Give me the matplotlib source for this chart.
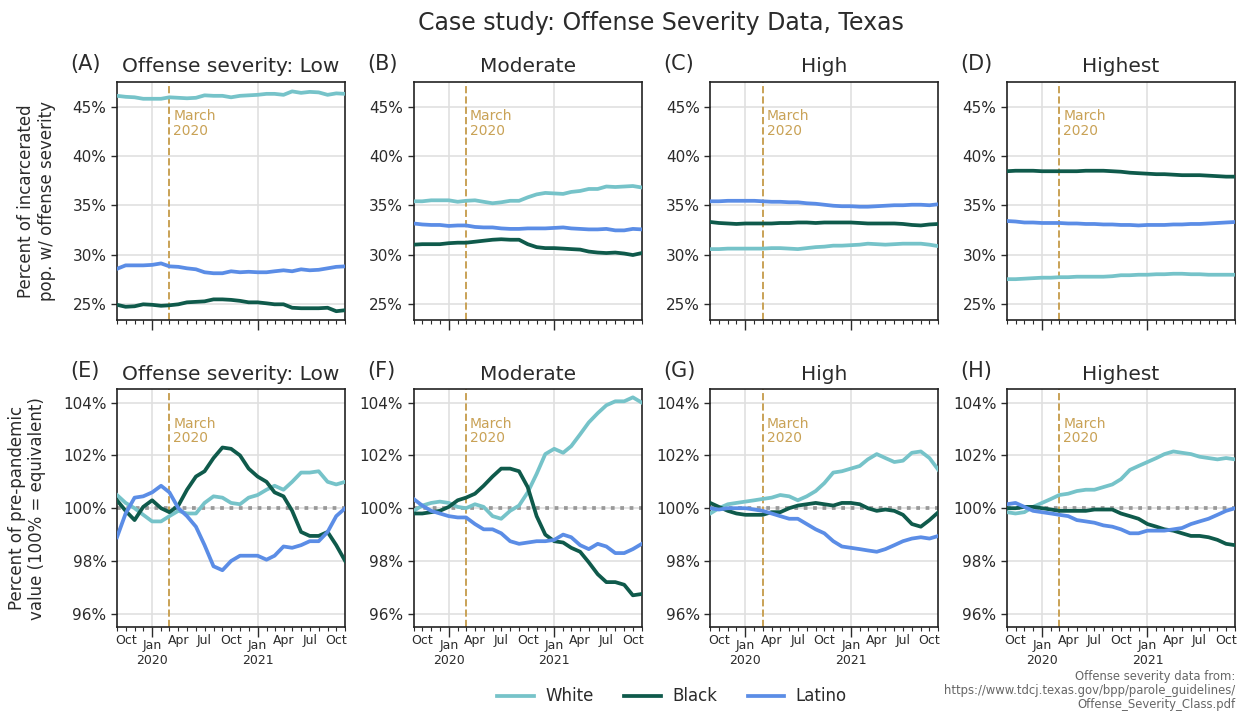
import matplotlib
matplotlib.use("Agg")
import matplotlib.pyplot as plt
import matplotlib.dates as mdates
import matplotlib.ticker as mticker
import pandas as pd

# meses (inicio de mes), sep 2019 - nov 2021
meses = pd.date_range("2019-09-01", "2021-11-01", freq="MS")

niveles = ["Offense severity: Low", "Moderate", "High", "Highest"]
letras_arriba = ["(A)", "(B)", "(C)", "(D)"]
letras_abajo = ["(E)", "(F)", "(G)", "(H)"]
grupos = ["White", "Black", "Latino"]
colores = {"White": "#76c3c9", "Black": "#0f5a4b", "Latino": "#5b8de6"}

# --- porcentaje de la poblacion encarcelada (fila de arriba) ---
pct_white = [
    [46.1, 46.0, 45.95, 45.8, 45.8, 45.8, 45.95, 45.9, 45.85, 45.9, 46.15, 46.1, 46.1, 45.95,
     46.1, 46.15, 46.2, 46.3, 46.3, 46.2, 46.55, 46.4, 46.5, 46.45, 46.2, 46.35, 46.3],
    [35.4, 35.4, 35.5, 35.5, 35.5, 35.35, 35.45, 35.5, 35.35, 35.2, 35.3, 35.45, 35.45, 35.8,
     36.1, 36.25, 36.2, 36.15, 36.35, 36.45, 36.65, 36.65, 36.9, 36.85, 36.9, 36.95, 36.8],
    [30.55, 30.55, 30.6, 30.6, 30.6, 30.6, 30.6, 30.65, 30.65, 30.6, 30.55, 30.65, 30.75, 30.8,
     30.9, 30.9, 30.95, 31.0, 31.1, 31.05, 31.0, 31.05, 31.1, 31.1, 31.1, 31.0, 30.85],
    [27.5, 27.5, 27.55, 27.6, 27.65, 27.65, 27.7, 27.7, 27.75, 27.75, 27.75, 27.75, 27.8, 27.9,
     27.9, 27.95, 27.95, 28.0, 28.0, 28.05, 28.05, 28.0, 28.0, 27.95, 27.95, 27.95, 27.95],
]
pct_black = [
    [24.9, 24.7, 24.75, 24.95, 24.9, 24.8, 24.85, 24.95, 25.15, 25.2, 25.25, 25.45, 25.45, 25.4,
     25.3, 25.15, 25.15, 25.05, 24.95, 24.95, 24.6, 24.55, 24.55, 24.55, 24.6, 24.25, 24.35],
    [31.0, 31.05, 31.05, 31.05, 31.15, 31.2, 31.2, 31.3, 31.4, 31.5, 31.55, 31.5, 31.5, 31.05,
     30.75, 30.65, 30.65, 30.6, 30.55, 30.5, 30.3, 30.2, 30.15, 30.2, 30.1, 29.95, 30.15],
    [33.3, 33.2, 33.15, 33.1, 33.15, 33.15, 33.15, 33.15, 33.2, 33.2, 33.25, 33.25, 33.2, 33.25,
     33.25, 33.25, 33.25, 33.2, 33.15, 33.15, 33.15, 33.15, 33.1, 33.0, 32.95, 33.05, 33.1],
    [38.45, 38.5, 38.5, 38.5, 38.45, 38.45, 38.45, 38.45, 38.45, 38.5, 38.5, 38.5, 38.45, 38.4,
     38.3, 38.25, 38.2, 38.15, 38.15, 38.1, 38.05, 38.05, 38.05, 38.0, 37.95, 37.9, 37.9],
]
pct_latino = [
    [28.55, 28.9, 28.9, 28.9, 28.95, 29.1, 28.8, 28.75, 28.6, 28.5, 28.2, 28.1, 28.1, 28.3,
     28.2, 28.25, 28.2, 28.2, 28.3, 28.4, 28.3, 28.5, 28.4, 28.45, 28.6, 28.75, 28.8],
    [33.15, 33.05, 33.0, 33.0, 32.9, 32.95, 32.95, 32.8, 32.75, 32.75, 32.65, 32.6, 32.6, 32.65,
     32.65, 32.65, 32.7, 32.75, 32.65, 32.6, 32.55, 32.55, 32.6, 32.45, 32.45, 32.6, 32.55],
    [35.4, 35.4, 35.45, 35.45, 35.45, 35.45, 35.4, 35.35, 35.35, 35.3, 35.3, 35.2, 35.15, 35.05,
     34.95, 34.9, 34.9, 34.85, 34.85, 34.9, 34.95, 35.0, 35.0, 35.05, 35.05, 35.0, 35.1],
    [33.4, 33.35, 33.25, 33.25, 33.2, 33.2, 33.2, 33.15, 33.15, 33.1, 33.1, 33.05, 33.05, 33.0,
     33.0, 32.95, 33.0, 33.0, 33.0, 33.05, 33.05, 33.1, 33.1, 33.15, 33.2, 33.25, 33.3],
]

# --- relativo al valor pre-pandemia (fila de abajo) ---
rel_white = [
    [100.5, 100.2, 100.0, 99.75, 99.5, 99.5, 99.7, 99.9, 99.8, 99.8, 100.2, 100.45, 100.4, 100.2,
     100.15, 100.4, 100.5, 100.7, 100.85, 100.7, 101.0, 101.35, 101.35, 101.4, 101.0, 100.9, 101.0],
    [99.9, 100.1, 100.2, 100.25, 100.2, 100.05, 100.0, 100.15, 100.05, 99.7, 99.6, 99.9, 100.1, 100.6,
     101.3, 102.05, 102.25, 102.1, 102.35, 102.8, 103.25, 103.6, 103.9, 104.05, 104.05, 104.2, 104.0],
    [99.8, 100.0, 100.15, 100.2, 100.25, 100.3, 100.35, 100.4, 100.5, 100.45, 100.3, 100.45, 100.65, 100.95,
     101.35, 101.4, 101.5, 101.6, 101.85, 102.05, 101.9, 101.75, 101.8, 102.1, 102.15, 101.9, 101.45],
    [99.85, 99.8, 99.85, 100.05, 100.2, 100.35, 100.5, 100.55, 100.65, 100.7, 100.7, 100.8, 100.9, 101.1,
     101.45, 101.6, 101.75, 101.9, 102.05, 102.15, 102.1, 102.05, 101.95, 101.9, 101.85, 101.9, 101.85],
]
rel_black = [
    [100.3, 99.9, 99.55, 100.05, 100.3, 100.0, 99.85, 100.1, 100.7, 101.2, 101.4, 101.9, 102.3, 102.25,
     102.0, 101.5, 101.2, 101.0, 100.6, 100.45, 99.9, 99.1, 98.95, 98.95, 99.1, 98.6, 98.0],
    [99.8, 99.8, 99.85, 99.9, 100.05, 100.3, 100.4, 100.55, 100.85, 101.2, 101.5, 101.5, 101.4, 100.8,
     99.7, 99.0, 98.75, 98.7, 98.5, 98.35, 97.95, 97.5, 97.2, 97.2, 97.1, 96.7, 96.75],
    [100.2, 100.05, 99.9, 99.8, 99.75, 99.75, 99.75, 99.85, 99.85, 100.0, 100.1, 100.15, 100.2, 100.15,
     100.1, 100.2, 100.2, 100.15, 100.0, 99.9, 99.95, 99.9, 99.75, 99.4, 99.3, 99.55, 99.85],
    [100.0, 100.0, 100.05, 100.05, 100.0, 99.95, 99.9, 99.9, 99.9, 99.9, 99.95, 99.95, 99.95, 99.8,
     99.7, 99.6, 99.4, 99.3, 99.2, 99.15, 99.05, 98.95, 98.95, 98.9, 98.8, 98.65, 98.6],
]
rel_latino = [
    [98.9, 99.8, 100.4, 100.45, 100.6, 100.85, 100.6, 100.0, 99.7, 99.3, 98.6, 97.8, 97.65, 98.0,
     98.2, 98.2, 98.2, 98.05, 98.2, 98.55, 98.5, 98.6, 98.75, 98.75, 99.1, 99.7, 100.0],
    [100.35, 100.1, 99.9, 99.8, 99.7, 99.65, 99.65, 99.4, 99.2, 99.2, 99.05, 98.75, 98.65, 98.7,
     98.75, 98.75, 98.8, 99.0, 98.9, 98.6, 98.45, 98.65, 98.55, 98.3, 98.3, 98.45, 98.65],
    [100.0, 99.95, 100.0, 100.0, 100.0, 99.95, 99.9, 99.8, 99.7, 99.6, 99.6, 99.4, 99.2, 99.05,
     98.75, 98.55, 98.5, 98.45, 98.4, 98.35, 98.45, 98.6, 98.75, 98.85, 98.9, 98.85, 98.95],
    [100.15, 100.2, 100.05, 99.9, 99.85, 99.8, 99.75, 99.7, 99.55, 99.5, 99.45, 99.35, 99.3, 99.2,
     99.05, 99.05, 99.15, 99.15, 99.15, 99.2, 99.25, 99.4, 99.5, 99.6, 99.75, 99.9, 100.0],
]

marzo = pd.Timestamp("2020-03-01")
color_marzo = "#c9a256"
gris_txt = "#2b2b2b"

plt.rcParams["font.family"] = ["DejaVu Sans"]
plt.rcParams["text.color"] = gris_txt
plt.rcParams["axes.labelcolor"] = gris_txt
plt.rcParams["xtick.color"] = gris_txt
plt.rcParams["ytick.color"] = gris_txt

fig, axes = plt.subplots(2, 4, figsize=(12.38, 7.12), dpi=100, sharex=True)
fig.subplots_adjust(left=0.0945, right=0.9976, top=0.8848, bottom=0.1194,
                    wspace=0.30, hspace=0.294)


def etiqueta_menor(x, pos):
    d = mdates.num2date(x)
    if d.month in (4, 7, 10):
        return d.strftime("%b")
    return ""


for fila in range(2):
    for col in range(4):
        ax = axes[fila, col]
        if fila == 0:
            datos = {"White": pct_white[col], "Black": pct_black[col], "Latino": pct_latino[col]}
        else:
            datos = {"White": rel_white[col], "Black": rel_black[col], "Latino": rel_latino[col]}
            ax.axhline(100, color="#999999", linestyle=(0, (1, 1.5)), linewidth=2.7, zorder=1)

        for g in grupos:
            ax.plot(meses, datos[g], color=colores[g], linewidth=2.7, label=g, zorder=3)

        ax.axvline(marzo, color=color_marzo, linestyle="--", linewidth=1.4, zorder=2)
        ax.text(marzo + pd.Timedelta(days=14), 0.885, "March\n2020", transform=ax.get_xaxis_transform(),
                color=color_marzo, fontsize=10, va="top", ha="left", linespacing=1.05)

        if fila == 0:
            ax.set_ylim(23.4, 47.5)
            ax.set_yticks([25, 30, 35, 40, 45])
            letra = letras_arriba[col]
        else:
            ax.set_ylim(95.5, 104.5)
            ax.set_yticks([96, 98, 100, 102, 104])
            letra = letras_abajo[col]
        ax.yaxis.set_major_formatter(mticker.FuncFormatter(lambda v, p: f"{v:.0f}%"))
        ax.set_title(niveles[col], fontsize=14.5, pad=7)
        ax.text(-0.205, 1.035, letra, transform=ax.transAxes, fontsize=15, ha="left", va="bottom")

        ax.set_xlim(meses[0], meses[-1])
        ax.xaxis.set_major_locator(mdates.MonthLocator(bymonth=1))
        ax.xaxis.set_major_formatter(mdates.DateFormatter("Jan\n%Y"))
        ax.xaxis.set_minor_locator(mdates.MonthLocator())
        ax.xaxis.set_minor_formatter(mticker.FuncFormatter(etiqueta_menor))
        ax.tick_params(axis="x", which="major", length=7, width=1, labelsize=9, pad=2)
        ax.tick_params(axis="x", which="minor", length=3, width=0.8, labelsize=9, pad=2)
        ax.tick_params(axis="y", which="major", length=4, width=1, labelsize=11)

        ax.grid(True, which="major", axis="both", color="#e0e0e0", linewidth=1.2, zorder=0)
        ax.set_axisbelow(True)
        for s in ax.spines.values():
            s.set_color("#222222")
            s.set_linewidth(1.2)

axes[0, 0].set_ylabel("Percent of incarcerated\npop. w/ offense severity", fontsize=12, labelpad=12)
axes[1, 0].set_ylabel("Percent of pre-pandemic\nvalue (100% = equivalent)", fontsize=12, labelpad=12)

fig.suptitle("Case study: Offense Severity Data, Texas", fontsize=17, x=0.534, y=0.985)

lineas, nombres = axes[0, 0].get_legend_handles_labels()
fig.legend(lineas, nombres, loc="center", bbox_to_anchor=(0.543, 0.022), ncol=3,
           frameon=False, fontsize=12, handlelength=2.2, columnspacing=1.8, handletextpad=0.7)

fig.text(0.998, 0.002, "Offense severity data from:\nhttps://www.tdcj.texas.gov/bpp/parole_guidelines/\nOffense_Severity_Class.pdf",
         ha="right", va="bottom", fontsize=8.4, color="#666666", linespacing=1.1)

plt.savefig("out.png", dpi=100)
